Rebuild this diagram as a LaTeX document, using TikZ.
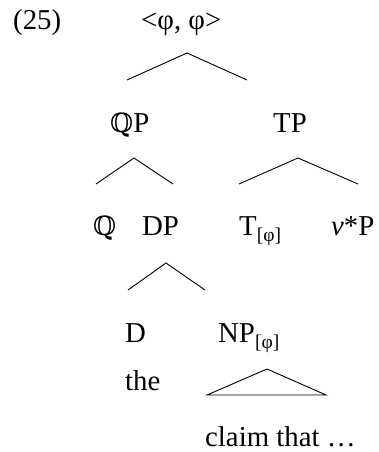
\documentclass[tikz,border=0pt]{standalone}
\usepackage{fontspec}
\setmainfont{Liberation Serif}
\newfontfamily\dsfont{DejaVu Serif}
\newcommand{\phisub}{\raisebox{-6.5pt}{\fontsize{19.5}{20}\selectfont[φ]}}
\begin{document}
\begin{tikzpicture}[x=1pt,y=-1pt,
  lbl/.style={anchor=base west,inner sep=0pt,font=\fontsize{28.8}{32}\selectfont},
  br/.style={line width=0.9pt}]
\useasboundingbox (0,0) rectangle (378,452);
% labels
\node[lbl] (ex) at (13,30) {(25)};
\node[lbl] (root) at (141,30) {<φ, φ>};
\node[lbl] (qp) at (110,132) {{\dsfont\fontsize{26.5}{30}\selectfont ℚ}P};
\node[lbl] (tp) at (273,132) {TP};
\node[lbl] (q) at (93,235) {\dsfont\fontsize{26.5}{30}\selectfont ℚ};
\node[lbl] (dp) at (142,235) {DP};
\node[lbl] (t) at (239,235) {T\phisub};
\node[lbl] (vp) at (331,235) {\textit{v}*P};
\node[lbl] (d) at (125,342) {D};
\node[lbl] (np) at (218,342) {NP\phisub};
\node[lbl] (the) at (125,390) {the};
\node[lbl] (claim) at (205,446) {claim that …};
% branch points
\coordinate (a1) at (187,53); \coordinate (l1) at (127,80); \coordinate (r1) at (247,80);
\coordinate (a2) at (134,158); \coordinate (l2) at (96,184); \coordinate (r2) at (173,184);
\coordinate (a3) at (298,158); \coordinate (l3) at (239,184); \coordinate (r3) at (358,184);
\coordinate (a4) at (166,263); \coordinate (l4) at (128,290); \coordinate (r4) at (205,290);
\coordinate (a5) at (267,369); \coordinate (l5) at (207,395); \coordinate (r5) at (326,395);
\draw[br] (l1) -- (a1) -- (r1);
\draw[br] (l2) -- (a2) -- (r2);
\draw[br] (l3) -- (a3) -- (r3);
\draw[br] (l4) -- (a4) -- (r4);
\draw[br] (l5) -- (a5) -- (r5) -- cycle;
\end{tikzpicture}
\end{document}
